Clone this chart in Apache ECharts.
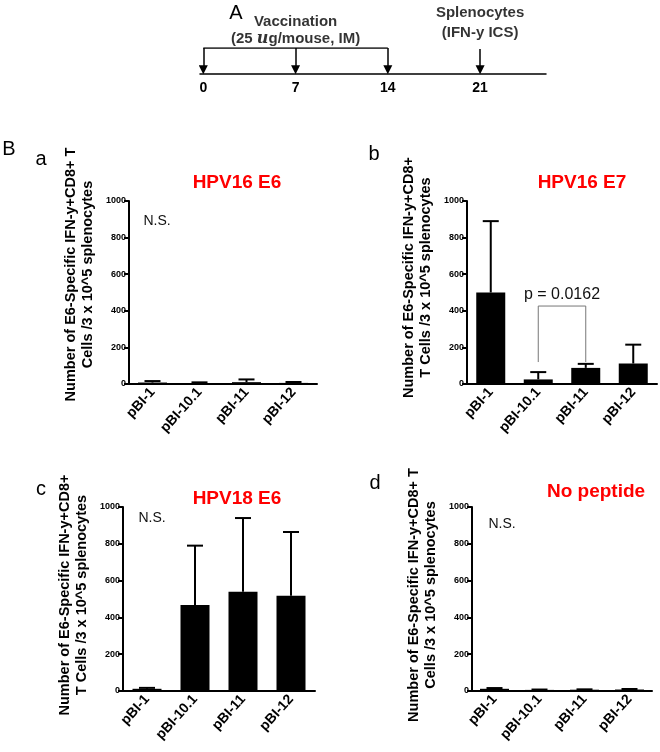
<!DOCTYPE html>
<html>
<head>
<meta charset="utf-8">
<script src="https://cdn.jsdelivr.net/npm/echarts@6/dist/echarts.min.js"></script>
<style>
  body { margin: 0; background: #fff; }
  #main { width: 660px; height: 752px; }
</style>
</head>
<body>
<div id="main"></div>
<script>
  // categories and values
  const categories = ['pBI-1', 'pBI-10.1', 'pBI-11', 'pBI-12']
  const hpv16E6Mean = [8, 5, 10, 6]
  const hpv16E6Err = [8, 4, 15, 5]
  const hpv16E7Mean = [500, 25, 88, 112]
  const hpv16E7Err = [390, 40, 22, 103]
  const hpv18E6Mean = [12, 467, 540, 518]
  const hpv18E6Err = [5, 323, 400, 346]
  const noPeptideMean = [12, 6, 7, 8]
  const noPeptideErr = [4, 2, 2, 3]
  const yMin = 0
  const yMax = 1000
  const yStep = 200

  // timeline (panel A)
  const timelineDays = [0, 7, 14, 21]
  const vaccinationDays = [0, 7, 14]
  const harvestDay = 21

  // p-value bracket in panel b
  const bracketFrom = 1
  const bracketTo = 2
  const bracketLow = 120
  const bracketHigh = 426
  const bracketText = 'p = 0.0162'

  const font = 'Liberation Sans, Arial, sans-serif'

  const chart = echarts.init(document.getElementById('main'))

  const grids = [
    { left: 200, top: 48, width: 346, height: 26 },   // timeline
    { left: 129, top: 201, width: 188, height: 183 }, // a
    { left: 467, top: 201, width: 190, height: 183 }, // b
    { left: 123, top: 507, width: 192, height: 184 }, // c
    { left: 472, top: 507, width: 180, height: 184 }  // d
  ]

  const panels = [
    { mean: hpv16E6Mean, err: hpv16E6Err, name: 'Number of E6-Specific IFN-y+CD8+ T\nCells /3 x 10^5 splenocytes', pad: 36 },
    { mean: hpv16E7Mean, err: hpv16E7Err, name: 'Number of E6-Specific IFN-y+CD8+\nT Cells /3 x 10^5 splenocytes', pad: 30 },
    { mean: hpv18E6Mean, err: hpv18E6Err, name: 'Number of E6-Specific IFN-y+CD8+\nT Cells /3 x 10^5 splenocytes', pad: 8 },
    { mean: noPeptideMean, err: noPeptideErr, name: 'Number of E6-Specific IFN-y+CD8+ T\nCells /3 x 10^5 splenocytes', pad: 8 }
  ]

  const xAxes = [{
    gridIndex: 0,
    type: 'value',
    min: -0.25,
    max: 26,
    axisLine: { show: true, onZero: false, lineStyle: { color: '#000', width: 1.5 } },
    axisTick: { show: false },
    splitLine: { show: false },
    axisLabel: {
      customValues: timelineDays,
      color: '#000', fontWeight: 'bold', fontSize: 14, fontFamily: font, margin: 7
    }
  }]
  const yAxes = [{
    gridIndex: 0, type: 'value', min: 0, max: 1, show: false
  }]

  const series = []

  panels.forEach(function (p, i) {
    const g = i + 1
    xAxes.push({
      gridIndex: g,
      type: 'category',
      data: categories,
      axisLine: { lineStyle: { color: '#000', width: 2 } },
      axisTick: { alignWithLabel: true, length: 5, lineStyle: { color: '#000', width: 2 } },
      axisLabel: {
        interval: 0, rotate: 48, margin: 6,
        color: '#000', fontWeight: 'bold', fontSize: 14, fontFamily: font
      }
    })
    yAxes.push({
      gridIndex: g,
      type: 'value',
      min: yMin,
      max: yMax,
      interval: yStep,
      axisLine: { show: true, lineStyle: { color: '#000', width: 2 } },
      axisTick: { show: true, length: 5, lineStyle: { color: '#000', width: 2 } },
      splitLine: { show: false },
      axisLabel: {
        color: '#000', fontWeight: 'bold', fontSize: 9, fontFamily: font, margin: 3,
        formatter: function (v) { return String(v) }
      },
      name: p.name,
      nameLocation: 'middle',
      nameRotate: 90,
      nameGap: 33,
      nameTextStyle: {
        color: '#000', fontWeight: 'bold', fontSize: 14.5, fontFamily: font,
        lineHeight: 17, padding: [0, 0, 0, p.pad]
      }
    })
    series.push({
      type: 'bar',
      xAxisIndex: g,
      yAxisIndex: g,
      data: p.mean,
      barWidth: 29,
      itemStyle: { color: '#000' }
    })
    series.push({
      type: 'custom',
      xAxisIndex: g,
      yAxisIndex: g,
      data: p.mean.map(function (m, k) { return [k, m, m + p.err[k]] }),
      renderItem: function (params, api) {
        const base = api.coord([api.value(0), api.value(1)])
        const top = api.coord([api.value(0), api.value(2)])
        const style = { stroke: '#000', lineWidth: 2 }
        return {
          type: 'group',
          children: [
            { type: 'line', shape: { x1: base[0], y1: base[1], x2: top[0], y2: top[1] }, style: style },
            { type: 'line', shape: { x1: top[0] - 8, y1: top[1], x2: top[0] + 8, y2: top[1] }, style: style }
          ]
        }
      },
      z: 3
    })
  })

  // p-value bracket (panel b)
  series.push({
    type: 'custom',
    xAxisIndex: 2,
    yAxisIndex: 2,
    data: [[bracketFrom, bracketTo, bracketLow, bracketHigh]],
    renderItem: function (params, api) {
      const a = api.coord([api.value(0), api.value(2)])
      const b = api.coord([api.value(0), api.value(3)])
      const c = api.coord([api.value(1), api.value(3)])
      const d = api.coord([api.value(1), api.value(2)])
      return {
        type: 'group',
        children: [
          {
            type: 'polyline',
            shape: { points: [a, b, c, d] },
            style: { stroke: '#777', lineWidth: 1, fill: null }
          },
          {
            type: 'text',
            x: (b[0] + c[0]) / 2,
            y: b[1] - 3,
            style: {
              text: bracketText, align: 'center', verticalAlign: 'bottom',
              fill: '#111', fontSize: 16, fontFamily: font
            }
          }
        ]
      }
    },
    z: 4
  })

  // timeline: bracket over vaccination days
  series.push({
    type: 'line',
    xAxisIndex: 0,
    yAxisIndex: 0,
    data: [[vaccinationDays[0], 1], [vaccinationDays[vaccinationDays.length - 1], 1]],
    showSymbol: false,
    lineStyle: { color: '#000', width: 1.5 },
    silent: true
  })
  // timeline arrows
  series.push({
    type: 'lines',
    coordinateSystem: 'cartesian2d',
    xAxisIndex: 0,
    yAxisIndex: 0,
    symbol: ['none', 'triangle'],
    symbolSize: [9, 9],
    lineStyle: { color: '#000', width: 1.5, opacity: 1 },
    data: vaccinationDays.concat([harvestDay]).map(function (d) {
      return { coords: [[d, d === harvestDay ? 0.96 : 1], [d, 0.16]] }
    })
  })
  // timeline captions
  series.push({
    type: 'scatter',
    xAxisIndex: 0,
    yAxisIndex: 0,
    symbolSize: 0,
    data: [
      { value: [7, 1], label: { formatter: '{b|Vaccination}\n{b|(25 }{i|u}{b|g/mouse, IM)}', distance: 1 } },
      { value: [harvestDay, 1], label: { formatter: '{s|Splenocytes}\n{s|(IFN-y ICS)}', distance: 5 } }
    ],
    label: {
      show: true,
      position: 'top',
      align: 'center',
      rich: {
        b: { color: '#000', fontWeight: 'bold', fontSize: 15, fontFamily: font, lineHeight: 17 },
        s: { color: '#000', fontWeight: 'bold', fontSize: 15, fontFamily: font, lineHeight: 20 },
        i: { color: '#000', fontWeight: 'bold', fontStyle: 'italic', fontSize: 16, fontFamily: 'DejaVu Serif, serif', lineHeight: 17 }
      }
    },
    silent: true
  })

  function txt(x, y, text, size, extra) {
    return {
      type: 'text', x: x, y: y,
      style: Object.assign({
        text: text, fontSize: size, fontFamily: font, fill: '#000',
        align: 'center', verticalAlign: 'middle'
      }, extra || {})
    }
  }

  const red = { fill: '#f00', fontWeight: 'bold' }

  chart.setOption({
    animation: false,
    grid: grids,
    xAxis: xAxes,
    yAxis: yAxes,
    series: series,
    graphic: [
      txt(236, 13, 'A', 20),
      txt(9, 149, 'B', 20),
      txt(41, 159, 'a', 20),
      txt(374, 154, 'b', 20),
      txt(41, 489, 'c', 20),
      txt(375, 483, 'd', 20),
      txt(237, 183, 'HPV16 E6', 19, red),
      txt(582, 183, 'HPV16 E7', 19, red),
      txt(237, 499, 'HPV18 E6', 19, red),
      txt(596, 492, 'No peptide', 19, red),
      txt(157, 221, 'N.S.', 14, { fill: '#111' }),
      txt(152, 518, 'N.S.', 14, { fill: '#111' }),
      txt(502, 524, 'N.S.', 14, { fill: '#111' })
    ]
  })
</script>
</body>
</html>
